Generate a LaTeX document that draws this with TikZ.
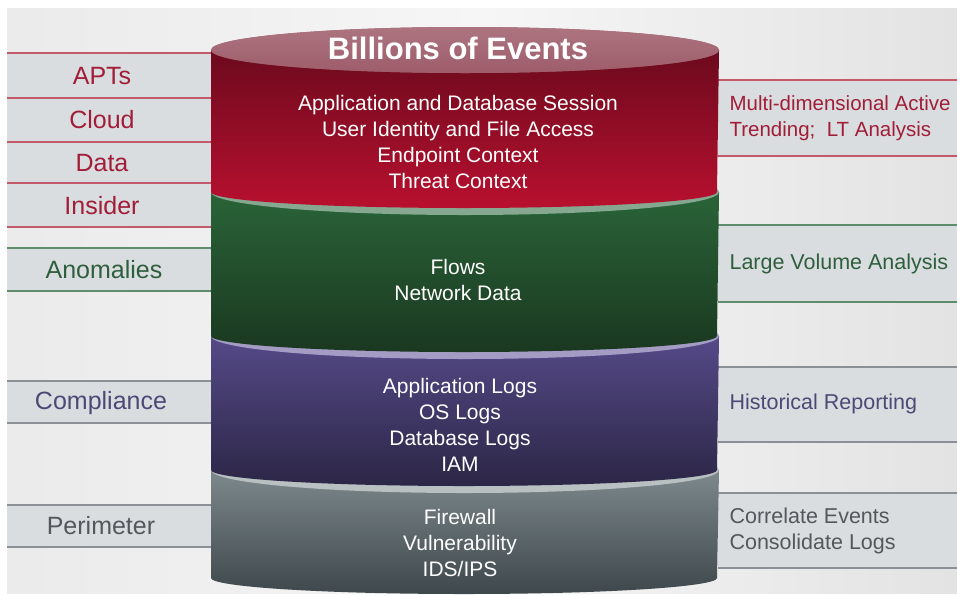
\documentclass[tikz,border=0pt]{standalone}
\usepackage{fontspec}
\setmainfont{Liberation Sans}
\usepackage{tikz}
\usetikzlibrary{positioning}

\definecolor{redtxt}{HTML}{A11D38}
\definecolor{greentxt}{HTML}{2F5E3E}
\definecolor{purtxt}{HTML}{4B4A76}
\definecolor{graytxt}{HTML}{52585D}
\definecolor{redline}{HTML}{C25A6C}
\definecolor{greenline}{HTML}{5E8C6C}
\definecolor{grayline}{HTML}{8A9096}
\definecolor{stripfill}{HTML}{D9DDDF}
\definecolor{redA}{HTML}{6C0A1D}\definecolor{redB}{HTML}{B8102F}\definecolor{redC}{HTML}{9E5C6A}
\definecolor{grnA}{HTML}{2A6438}\definecolor{grnB}{HTML}{1A3820}\definecolor{grnC}{HTML}{86A890}
\definecolor{purA}{HTML}{554A88}\definecolor{purB}{HTML}{2C2646}\definecolor{purC}{HTML}{A49CC4}
\definecolor{gryA}{HTML}{7E898D}\definecolor{gryB}{HTML}{3E484C}\definecolor{gryC}{HTML}{B8C0C2}

\tikzset{
  strip/.style={fill=stripfill},
  lbl/.style={font=\fontsize{25}{29}\selectfont},
  rlbl/.style={anchor=west,align=left,font=\fontsize{21.5}{26}\selectfont},
  inner/.style={white,align=center,font=\fontsize{21}{26}\selectfont},
}

\begin{document}
\begin{tikzpicture}[x=1pt,y=-1pt]
\useasboundingbox (0,0) rectangle (957,595);
% background
\shade[left color=gray!16,right color=gray!22,middle color=gray!7] (7,8) rectangle (957,593);

% left strips
\foreach \ya/\yb/\lc in {53/98/redline,98/142/redline,142/183/redline,183/227/redline,248/291/greenline,381/423/grayline,505/547/grayline}{
  \fill[strip] (7,\ya) rectangle (211,\yb);
  \draw[\lc,line width=1.5pt] (7,\ya)--(211,\ya) (7,\yb)--(211,\yb);
}
% right strips
\foreach \ya/\yb/\lc in {80/156/redline,225/302/greenline,367/442/grayline,493/568/grayline}{
  \fill[strip] (718,\ya) rectangle (957,\yb);
  \draw[\lc,line width=1.5pt] (718,\ya)--(957,\ya) (718,\yb)--(957,\yb);
}

% cylinder, bottom layer first
\foreach \T/\B/\ca/\cb/\cc in {470/578/gryA/gryB/gryC,336/470/purA/purB/purC,192/336/grnA/grnB/grnC,50/192/redA/redB/redC}{
  \shade[top color=\ca,bottom color=\cb] (211,\T) -- (211,\B)
     arc[start angle=180,end angle=0,x radius=253,y radius=16] -- (719,\T) -- cycle;
  \fill[\cc] (465,\T) ellipse[x radius=254,y radius=23];
}
\shade[top color=redC!85!white,bottom color=redC] (465,50) ellipse[x radius=254,y radius=23];

\node[white,font=\fontsize{31}{34}\selectfont\bfseries] (title) at (458,48) {Billions of Events};
\node[inner] (ctx) at (458,142) {Application and Database Session\\User Identity and File Access\\Endpoint Context\\Threat Context};
\node[inner] (flows) at (458,280) {Flows\\Network Data};
\node[inner] (logs) at (460,425) {Application Logs\\OS Logs\\Database Logs\\IAM};
\node[inner] (fw) at (460,543) {Firewall\\Vulnerability\\IDS/IPS};

% left labels
\node[lbl,redtxt] (apts) at (102,76) {APTs};
\node[lbl,redtxt] (cloud) at (102,120) {Cloud};
\node[lbl,redtxt] (data) at (102,163) {Data};
\node[lbl,redtxt] (insider) at (102,206) {Insider};
\node[lbl,greentxt] (anom) at (104,270) {Anomalies};
\node[lbl,purtxt] (compl) at (101,403) {Compliance};
\node[lbl,graytxt] (perim) at (101,526) {Perimeter};

% right labels
\node[rlbl,redtxt,font=\fontsize{20.5}{26}\selectfont] (multi) at (726,118) {Multi-dimensional Active\\Trending;\ \ LT Analysis};
\node[rlbl,greentxt] (large) at (726,264) {Large Volume Analysis};
\node[rlbl,purtxt] (hist) at (726,404) {Historical Reporting};
\node[rlbl,graytxt] (corr) at (726,531) {Correlate Events\\Consolidate Logs};
\end{tikzpicture}
\end{document}
